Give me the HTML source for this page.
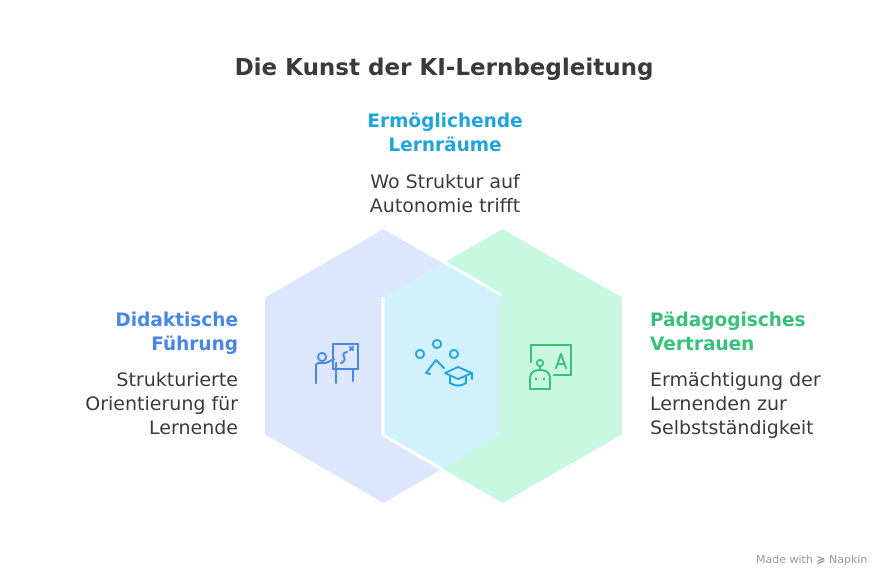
<!DOCTYPE html>
<html><head><meta charset="utf-8"><style>
html,body{margin:0;padding:0;background:#fff}
body{width:888px;height:588px;position:relative;overflow:hidden;font-family:"DejaVu Sans","Liberation Sans",sans-serif}
.t{position:absolute;white-space:nowrap}
.h{font-weight:bold;font-size:18.5px;line-height:24px}
.d{font-size:19px;line-height:24px;color:#3a3a3a}
</style></head><body>
<svg width="888" height="588" style="position:absolute;left:0;top:0">
<polygon points="383.5,229 502,297.5 502,434.5 383.5,503 265,434.5 265,297.5" fill="#dce6fd"/>
<polygon points="502.5,229 622,297.5 622,434.5 502.5,503 383,434.5 383,297.5" fill="#c8f8e1"/>
<polygon points="442.5,263 500,297.5 500,434.5 442.5,469 385,434.5 385,297.5" fill="#d2f1fe"/>
<polyline points="442.5,261 502,295.5" stroke="#fff" stroke-width="3" fill="none"/>
<polyline points="383,297 383,435 442.5,469.5" stroke="#fff" stroke-width="3" fill="none"/>
<g fill="none" stroke="#4a86e8" stroke-width="2" stroke-linecap="round" stroke-linejoin="round">
<rect x="333" y="344" width="25" height="25"/>
<line x1="353" y1="369" x2="353" y2="381"/>
<circle cx="322" cy="357" r="4"/>
<path d="M316 383v-17q0-3 3-3h7l8-4M336 383v-20"/>
<path d="M347 352q-5 1-3 5t-3 6"/>
<path d="M350 347l3 3M353 347l-3 3"/>
</g>
<g fill="none" stroke="#1fa5dc" stroke-width="2" stroke-linecap="round" stroke-linejoin="round">
<circle cx="437" cy="344" r="4"/><circle cx="420" cy="354" r="4"/><circle cx="454" cy="354" r="4"/>
<path d="M426 373l10-13 8 8M430 374l-4-1"/>
<path d="M445 373l13-6 14 6-14 6z"/>
<path d="M450 376v7q8 5 16 0v-7M472 373v6"/>
</g>
<g fill="none" stroke="#36c27a" stroke-width="2" stroke-linecap="round" stroke-linejoin="round">
<path d="M531 362v-17h40v30h-17"/>
<path d="M556 368l5-14 5 14M558 364h6"/>
<circle cx="540" cy="363" r="3"/><line x1="540" y1="366" x2="540" y2="370"/>
<path d="M530 389v-10q0-9 10-9t10 9v10z"/>
</g>
<g fill="#36c27a"><circle cx="536" cy="379" r="1.2"/><circle cx="544" cy="379" r="1.2"/></g>
</svg>
<div class="t" style="left:0;width:888px;text-align:center;top:55px;font-size:23px;font-weight:bold;color:#3a3a3a">Die Kunst der KI-Lernbegleitung</div>
<div class="t h" style="left:340px;width:210px;text-align:center;top:110px;color:#1fa5dc">Ermöglichende<br>Lernräume</div>
<div class="t d" style="left:340px;width:210px;text-align:center;top:170px">Wo Struktur auf<br>Autonomie trifft</div>
<div class="t h" style="right:650px;text-align:right;top:309px;color:#4a86e8">Didaktische<br>Führung</div>
<div class="t d" style="right:650px;text-align:right;top:368px">Strukturierte<br>Orientierung für<br>Lernende</div>
<div class="t h" style="left:650px;top:309px;color:#36c27a">Pädagogisches<br>Vertrauen</div>
<div class="t d" style="left:650px;top:368px">Ermächtigung der<br>Lernenden zur<br>Selbstständigkeit</div>
<div class="t" style="left:756px;top:553px;font-size:11px;color:#999">Made with <span style="font-weight:bold">≽</span> Napkin</div>
</body></html>
